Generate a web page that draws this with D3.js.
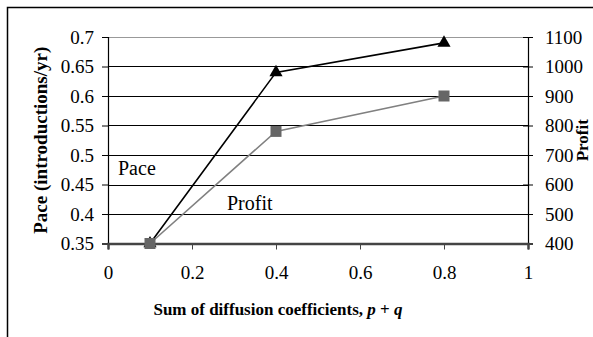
<!DOCTYPE html>
<html>
<head>
<meta charset="utf-8">
<script src="https://cdn.jsdelivr.net/npm/d3@7"></script>
<style>
  body { margin: 0; background: #fff; }
  text { font-family: "Liberation Serif", "Times New Roman", serif; }
</style>
</head>
<body>
<div id="chart"></div>
<script>
const WIDTH = 593;
const HEIGHT = 337;

// values
const coeffs = [0.1, 0.4, 0.8];
const pace = [0.35, 0.64, 0.69];
const profit = [400, 780, 900];
const xTicks = [0, 0.2, 0.4, 0.6, 0.8, 1];
const paceTicks = [0.35, 0.4, 0.45, 0.5, 0.55, 0.6, 0.65, 0.7];
const profitTicks = [400, 500, 600, 700, 800, 900, 1000, 1100];

const PLOT_L = 108, PLOT_R = 528, PLOT_T = 37, PLOT_B = 243.5;

const svg = d3.select("#chart")
  .append("svg")
  .attr("width", WIDTH)
  .attr("height", HEIGHT);

// outer frame (right/bottom edges fall outside the picture)
svg.append("rect")
  .attr("x", 7.5).attr("y", 7.5)
  .attr("width", 700).attr("height", 500)
  .attr("fill", "none").attr("stroke", "#000").attr("stroke-width", 1.5);

const x = d3.scaleLinear().domain([0, 1]).range([PLOT_L, PLOT_R]);
const yL = d3.scaleLinear().domain([0.35, 0.7]).range([PLOT_B, PLOT_T]);
const yR = d3.scaleLinear().domain([400, 1100]).range([PLOT_B, PLOT_T]);

// gridlines
svg.append("g")
  .selectAll("line")
  .data(paceTicks.filter(d => d > 0.35))
  .enter()
  .append("line")
    .attr("x1", PLOT_L).attr("x2", PLOT_R)
    .attr("y1", d => Math.round(yL(d)) + 0.5)
    .attr("y2", d => Math.round(yL(d)) + 0.5)
    .attr("stroke", d => d === 0.7 ? "#999" : "#000")
    .attr("stroke-width", 1);

// left axis
const gL = svg.append("g")
  .attr("transform", `translate(${PLOT_L}, 0)`)
  .call(d3.axisLeft(yL).tickValues(paceTicks).tickSize(6).tickPadding(8)
    .tickFormat(d => String(+d.toFixed(2))));

// right axis
const gR = svg.append("g")
  .attr("transform", `translate(${PLOT_R}, 0)`)
  .call(d3.axisRight(yR).tickValues(profitTicks).tickSize(5).tickPadding(12)
    .tickFormat(d => String(d)));
gR.selectAll(".tick line").attr("x1", -5);

// bottom axis
const gB = svg.append("g")
  .attr("transform", `translate(0, ${PLOT_B})`)
  .call(d3.axisBottom(x).tickValues(xTicks).tickSize(6).tickPadding(16)
    .tickFormat(d => String(d)));

[gL, gR, gB].forEach(g => {
  g.select(".domain").attr("stroke", "#000").attr("stroke-width", 1.2);
  g.selectAll(".tick line").attr("stroke", "#000");
  g.selectAll(".tick text")
    .attr("fill", "#000")
    .style("font-family", "'Liberation Serif', serif")
    .style("font-size", "19px");
});
gB.select(".domain").attr("stroke", "#444").attr("stroke-width", 2.5);
gB.selectAll(".tick line").attr("stroke", "#444");

// pace series
const paceData = coeffs.map((c, i) => [c, pace[i]]);
svg.append("path")
  .datum(paceData)
  .attr("fill", "none").attr("stroke", "#000").attr("stroke-width", 1.6)
  .attr("d", d3.line().x(d => x(d[0])).y(d => yL(d[1])));
svg.selectAll(".tri")
  .data(paceData)
  .enter()
  .append("path")
    .attr("class", "tri")
    .attr("transform", d => `translate(${x(d[0])}, ${yL(d[1])})`)
    .attr("d", d3.symbol().type(d3.symbolTriangle).size(75))
    .attr("fill", "#000");

// profit series
const profitData = coeffs.map((c, i) => [c, profit[i]]);
svg.append("path")
  .datum(profitData)
  .attr("fill", "none").attr("stroke", "#808080").attr("stroke-width", 1.6)
  .attr("d", d3.line().x(d => x(d[0])).y(d => yR(d[1])));
svg.selectAll(".sq")
  .data(profitData)
  .enter()
  .append("rect")
    .attr("class", "sq")
    .attr("x", d => x(d[0]) - 5.5).attr("y", d => yR(d[1]) - 5.5)
    .attr("width", 11).attr("height", 11)
    .attr("fill", "#666");

// series labels
svg.append("text").attr("x", 118).attr("y", 175)
  .style("font-size", "20px").text("Pace");
svg.append("text").attr("x", 227).attr("y", 210)
  .style("font-size", "20px").text("Profit");

// axis titles
const xt = svg.append("text")
  .attr("x", 278).attr("y", 315)
  .attr("text-anchor", "middle")
  .style("font-size", "17px").style("font-weight", "bold");
xt.append("tspan").text("Sum of diffusion coefficients, ");
xt.append("tspan").style("font-style", "italic").text("p");
xt.append("tspan").text(" + ");
xt.append("tspan").style("font-style", "italic").text("q");

svg.append("text")
  .attr("transform", `translate(47, ${(PLOT_T + PLOT_B) / 2}) rotate(-90)`)
  .attr("text-anchor", "middle")
  .style("font-size", "19px").style("font-weight", "bold")
  .text("Pace (introductions/yr)");

svg.append("text")
  .attr("transform", `translate(588, ${(PLOT_T + PLOT_B) / 2}) rotate(-90)`)
  .attr("text-anchor", "middle")
  .style("font-size", "17px").style("font-weight", "bold")
  .text("Profit");
</script>
</body>
</html>
